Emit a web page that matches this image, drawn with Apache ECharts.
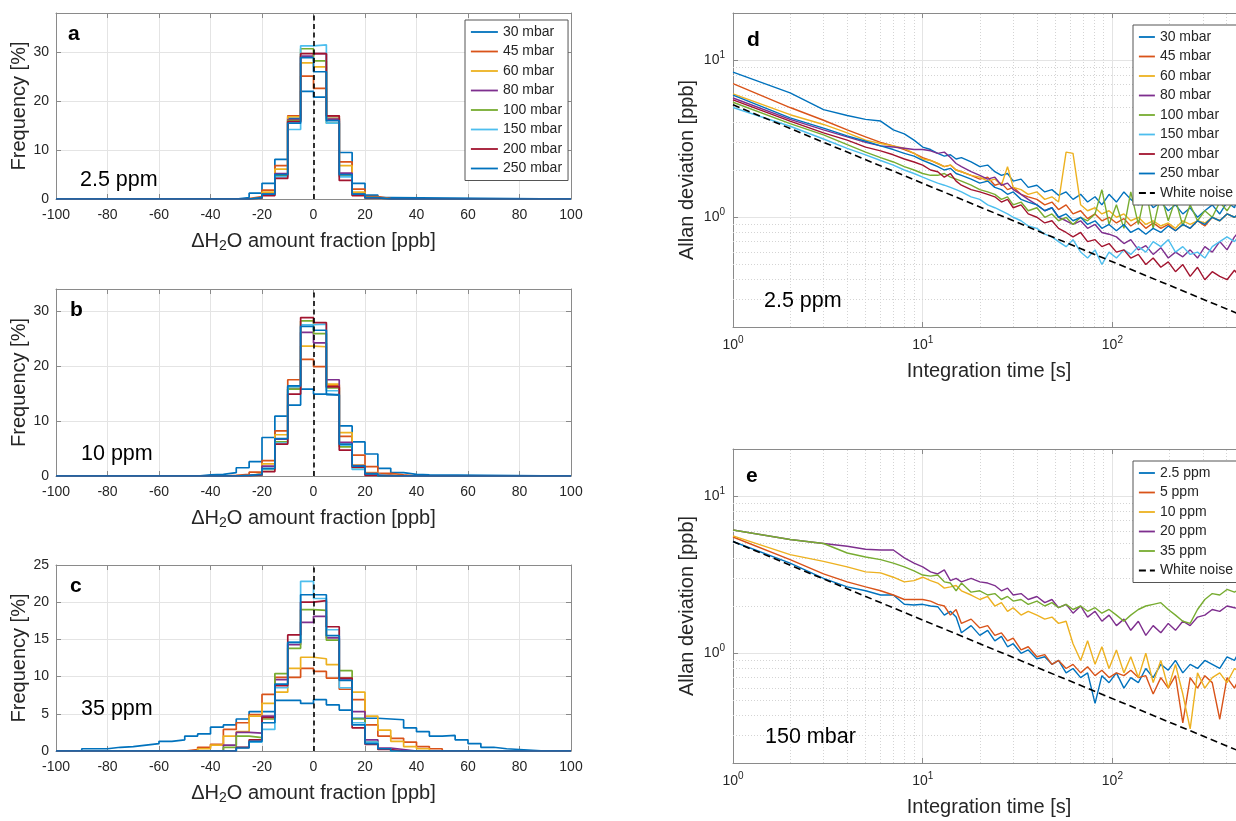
<!DOCTYPE html>
<html><head><meta charset="utf-8">
<script src="https://cdn.jsdelivr.net/npm/echarts@6/dist/echarts.min.js"></script>
<style>html,body{margin:0;padding:0;background:#fff}#c{width:1236px;height:821px}</style>
</head><body><div id="c"></div>
<script>
// ---------------- DATA ----------------
const PRESSURES = ['30 mbar','45 mbar','60 mbar','80 mbar','100 mbar','150 mbar','200 mbar','250 mbar'];
const CONCS = ['2.5 ppm','5 ppm','10 ppm','20 ppm','35 ppm'];
const X_RANGE = [-100, 100];

// Histogram bin edges (ppb)
const EDGES_A = [-30,-25,-20,-15,-10,-5,0,5,10,15,20,25,30];
const EDGES_B = [-45,-40,-35,-30,-25,-20,-15,-10,-5,0,5,10,15,20,25,30,35,40,45];
const EDGES_C = [-90,-85,-80,-75,-70,-65,-60,-55,-50,-45,-40,-35,-30,-25,-20,-15,-10,-5,0,5,10,15,20,25,30,35,40,45,50,55,60,65,70,75,80,85,90];

// Panel a: 2.5 ppm (frequency %)
const A30  = [0.3,1.2,3.2,8.1,16.5,22.0,20.8,16.5,9.5,3.2,0.8,0.3];
const A45  = [0.1,0.5,1.8,6.8,17.0,25.1,22.6,17.0,7.6,2.0,0.5,0.1];
const A60  = [0,0.3,1.4,6.1,16.8,27.8,27.0,16.5,6.8,1.4,0.3,0];
const A80  = [0,0.2,1.0,5.2,16.2,29.2,29.7,16.3,5.3,1.0,0.2,0];
const A100 = [0,0.2,0.9,4.8,16.0,30.7,28.2,15.5,4.7,0.9,0.2,0];
const A150 = [0,0.2,0.8,4.5,14.2,31.3,31.5,15.5,4.5,0.8,0.2,0];
const A200 = [0,0.2,0.7,4.2,15.8,29.7,29.7,17.0,3.8,0.7,0.2,0];
const A250 = [0,0.3,1.0,5.0,15.5,28.9,26.0,16.0,5.0,1.0,0.3,0];

// Panel b: 10 ppm
const B30  = [0.2,0.3,0.6,1.5,2.6,7.0,10.9,12.9,15.8,14.9,14.7,9.1,6.2,4.0,1.4,0.6,0.3,0.2];
const B45  = [0,0,0.1,0.3,0.7,2.8,8.2,17.5,21.2,19.9,16.5,7.2,3.8,1.7,0.5,0.2,0,0];
const B60  = [0,0,0,0.1,0.4,2.2,7.5,16.2,23.6,23.5,16.7,7.9,2.0,0.6,0.2,0,0,0];
const B80  = [0,0,0,0.1,0.3,1.8,6.7,15.8,26.1,24.2,17.5,6.1,1.9,0.5,0.1,0,0,0];
const B100 = [0,0,0,0,0.2,1.2,6.2,15.8,28.2,25.9,16.0,5.3,1.5,0.4,0,0,0,0];
const B150 = [0,0,0,0,0.2,1.3,6.0,16.2,27.5,27.6,15.5,5.6,1.2,0.3,0,0,0,0];
const B200 = [0,0,0,0,0.2,0.8,5.8,14.9,28.8,27.9,16.2,4.7,1.6,0.1,0,0,0,0];
const B250 = [0,0,0,0.1,0.3,1.4,6.8,16.4,27.2,26.5,14.8,5.8,1.8,0.4,0,0,0,0];

// Panel c: 35 ppm
const C30  = [0.3,0.3,0.5,0.6,0.8,1.0,1.3,1.5,2.0,2.3,3.2,3.5,4.3,5.3,5.3,6.8,6.8,6.4,6.9,6.2,5.5,4.4,4.4,4.3,4.2,3.1,2.6,2.0,2.1,1.5,1.0,0.5,0.3,0.2,0.1,0];
const C45  = [0,0,0,0,0,0,0,0,0.2,0.5,0.9,2.9,3.8,4.9,7.6,9.9,9.9,11.1,10.7,9.8,8.3,6.9,3.5,2.0,1.7,1.2,0.6,0.3,0,0,0,0,0,0,0,0];
const C60  = [0,0,0,0,0,0,0,0,0,0.3,0.8,2.0,2.6,4.7,6.4,7.9,11.1,12.6,12.4,11.6,9.8,7.9,4.7,2.8,1.3,0.6,0.3,0,0,0,0,0,0,0,0,0];
const C80  = [0,0,0,0,0,0,0,0,0,0,0,0.8,2.5,2.4,4.7,9.6,14.3,17.3,18.1,15.2,9.7,5.3,1.5,0.4,0.2,0,0,0,0,0,0,0,0,0,0,0];
const C100 = [0,0,0,0,0,0,0,0,0,0,0,0.5,2.0,1.8,4.3,10.4,13.8,19.0,18.9,14.9,10.8,4.3,1.2,0.3,0,0,0,0,0,0,0,0,0,0,0,0];
const C150 = [0,0,0,0,0,0,0,0,0,0,0,0,0.5,1.2,2.9,8.5,14.6,22.8,20.5,16.3,8.5,3.8,1.2,0.3,0,0,0,0,0,0,0,0,0,0,0,0];
const C200 = [0,0,0,0,0,0,0,0,0,0,0,0,0.5,1.5,4.5,8.8,15.6,20.0,20.2,16.7,9.8,3.1,0.9,0.2,0,0,0,0,0,0,0,0,0,0,0,0];
const C250 = [0,0,0,0,0,0,0,0,0,0,0,0,0.4,1.3,3.8,9.0,14.6,21.0,21.0,15.5,9.5,3.5,1.0,0.3,0,0,0,0,0,0,0,0,0,0,0,0];

// Allan deviation: integration times (s)
const TAU = [1,2,3,4,5,6,7,8,9,10,11,12,13,14,15,16,18,20,22,24,26,28,30,33,36,40,44,48,52,57,62,68,74,81,88,96,105,115,125,137,150,164,180,197,215,235,257,281,307,336,368,402,440,481,500];

// Panel d: 2.5 ppm, per pressure (ppb)
const D30  = [8.4,6.2,4.85,4.45,4.2,4.1,3.6,3.4,3.1,2.8, 2.7,2.55,2.45,2.5,2.35,2.4,2.25,2.1,2.15,1.95, 1.85,1.9,1.7,1.75,1.55,1.6,1.45,1.5,1.38,1.45, 1.3,1.4,1.25,1.35,1.2,1.4,1.25,1.45,1.3,1.2, 1.35,1.15,1.25,1.1,1.2,1.05,1.15,1.0,1.1,1.2, 1.05,1.25,1.15,1.6,1.5];
const D45  = [7.1,5.0,4.15,3.6,3.25,3.0,2.85,2.7,2.55,2.4, 2.3,2.2,2.1,2.15,2.0,1.95,1.85,1.75,1.8,1.6, 1.65,1.5,1.55,1.4,1.35,1.3,1.2,1.25,1.12,1.2, 1.05,1.1,0.98,1.05,0.95,1.0,0.92,0.98,0.88,0.95, 0.85,0.92,0.85,0.9,0.82,0.9,0.85,0.95,0.88,1.0, 0.95,1.05,1.0,1.05,1.0];
const D60  = [6.1,4.5,3.9,3.45,3.1,2.95,2.85,2.75,2.55,2.35, 2.3,2.2,2.1,2.15,2.0,1.95,1.85,1.8,1.7,1.75, 1.6,2.1,1.55,1.5,1.4,1.45,1.3,1.35,1.25,2.6, 2.55,1.2,1.1,1.15,1.05,1.1,1.0,1.05,0.95,1.0, 0.9,0.95,0.88,0.92,0.85,0.95,0.9,0.95,0.92,1.0, 0.95,1.05,1.0,1.1,1.05];
const D80  = [5.75,4.2,3.6,3.25,3.0,2.85,2.8,2.75,2.7,2.7, 2.65,2.55,2.6,2.4,2.2,2.1,1.95,1.85,1.75,1.8, 1.6,1.65,1.5,1.4,1.3,1.2,1.1,1.15,1.0,0.95, 0.9,0.95,0.85,0.9,0.8,0.78,0.75,0.68,0.72,0.62, 0.66,0.58,0.64,0.55,0.6,0.56,0.62,0.55,0.65,0.6, 0.7,0.62,0.75,0.85,0.8];
const D100 = [5.4,3.95,3.35,2.9,2.6,2.4,2.25,2.1,2.0,1.9, 1.85,1.85,1.9,1.8,1.75,1.7,1.6,1.5,1.45,1.4, 1.3,1.35,1.2,1.25,1.1,1.15,1.0,1.05,0.95,1.0, 0.9,1.0,0.95,1.05,1.5,0.9,1.2,0.85,1.45,0.9, 1.5,0.85,1.4,0.95,1.3,0.88,1.2,0.95,1.1,1.0, 1.25,1.1,1.3,1.55,1.4];
const D150 = [5.0,3.8,3.15,2.75,2.5,2.3,2.15,2.0,1.9,1.8, 1.72,1.65,1.6,1.55,1.5,1.45,1.35,1.3,1.2,1.15, 1.1,1.05,1.0,0.95,0.88,0.85,0.78,0.75,0.7,0.65, 0.72,0.6,0.55,0.62,0.5,0.6,0.55,0.62,0.58,0.65, 0.6,0.7,0.65,0.72,0.6,0.65,0.58,0.6,0.55,0.65, 0.7,0.75,0.7,0.8,0.75];
const D200 = [5.6,4.1,3.45,3.1,2.8,2.65,2.5,2.35,2.25,2.15, 2.0,1.95,1.8,1.9,1.7,1.6,1.5,1.45,1.4,1.35, 1.25,1.3,1.15,1.2,1.05,1.0,0.92,0.95,0.85,0.8, 0.75,0.8,0.7,0.72,0.65,0.68,0.6,0.62,0.55,0.58, 0.5,0.55,0.48,0.52,0.45,0.5,0.42,0.48,0.4,0.45, 0.42,0.4,0.46,0.4,0.38];
const D250 = [6.0,4.3,3.7,3.3,3.05,2.85,2.7,2.55,2.45,2.3, 2.2,2.1,2.0,2.05,1.9,1.85,1.75,1.65,1.7,1.55, 1.5,1.4,1.45,1.3,1.25,1.2,1.1,1.15,1.0,1.05, 0.95,1.0,0.9,0.95,0.85,0.9,0.82,0.9,0.8,0.85, 0.78,0.85,0.8,0.88,0.82,0.9,0.85,0.95,0.9,1.0, 0.95,1.05,1.0,1.1,1.05];

// Panel e: 150 mbar, per concentration (ppb)
const E2_5 = [5.15,3.75,3.0,2.65,2.5,2.35,2.35,2.05,2.03,2.05, 2.0,1.98,1.75,1.85,1.7,1.35,1.5,1.3,1.4,1.2, 1.28,1.1,1.15,1.0,1.05,0.92,0.95,0.85,0.9,0.75, 0.8,0.7,0.75,0.48,0.72,0.65,0.75,0.6,0.7,0.65, 0.8,0.7,0.85,0.78,0.9,0.75,0.85,0.8,0.9,0.85, 0.8,0.95,0.9,1.1,1.3];
const E5   = [5.5,3.95,3.2,2.85,2.65,2.5,2.35,2.2,2.2,2.2, 2.15,2.05,2.0,1.75,1.9,1.55,1.65,1.45,1.5,1.3, 1.35,1.2,1.25,1.05,1.1,0.95,0.98,0.85,0.9,0.8, 0.85,0.75,0.82,0.72,0.78,0.7,0.75,0.72,0.78,0.7, 0.72,0.55,0.7,0.6,0.72,0.36,0.7,0.6,0.72,0.65, 0.38,0.7,0.6,0.75,0.7];
const E10  = [5.6,4.25,3.85,3.55,3.3,3.25,3.05,2.85,2.9,3.05, 2.9,2.8,2.6,2.65,2.7,2.5,2.35,2.2,2.3,2.0, 2.1,1.85,1.95,1.75,1.85,1.75,1.65,1.7,1.55,1.6, 1.15,0.9,1.2,0.85,1.1,0.8,1.05,0.75,0.95,0.7, 1.0,0.65,0.9,0.6,0.85,0.55,0.33,0.75,0.6,0.7, 0.75,0.65,0.8,0.75,0.85];
const E20  = [6.1,5.3,5.0,4.8,4.6,4.55,4.55,4.05,3.75,3.55, 3.3,3.2,3.4,2.9,3.0,2.85,3.0,2.85,2.8,2.7, 2.5,2.6,2.35,2.4,2.2,2.3,2.1,2.2,1.95,2.05, 1.8,2.0,1.7,1.85,1.6,1.75,1.5,1.65,1.4,1.6, 1.3,1.5,1.35,1.55,1.4,1.6,1.5,1.7,1.75,1.9, 1.85,2.0,1.95,1.9,1.95];
const E35  = [6.1,5.3,5.0,4.35,4.1,3.95,3.75,3.55,3.35,3.15, 3.1,3.15,2.85,2.8,2.5,2.8,2.45,2.5,2.35,2.4, 2.2,2.3,2.15,2.2,2.05,2.15,2.0,2.1,1.95,2.05, 1.9,2.0,1.85,1.95,1.8,1.9,1.75,1.6,1.75,1.9, 2.0,2.05,2.1,1.9,1.75,1.6,1.55,1.9,2.2,2.4, 2.35,2.55,2.45,2.6,2.65];

// White-noise reference lines (end points)
const WN_TAU = [1, 500];
const WN_D = [5.2, 0.233];
const WN_E = [5.15, 0.23];

// Log-axis minor grid positions
const MINOR_X = [2,3,4,5,6,7,8,9,20,30,40,50,60,70,80,90,200,300,400];
const MINOR_Y = [0.3,0.4,0.5,0.6,0.7,0.8,0.9,2,3,4,5,6,7,8,9];

// ---------------- STYLE ----------------
const FONT = '"Liberation Sans", Arial, Helvetica, sans-serif';
const COLORS = ['#0072BD','#D95319','#EDB120','#7E2F8E','#77AC30','#4DBEEE','#A2142F','#0072BD'];
const AXC = '#8a8a8a';
const LBL = '#262626';
const GRC = '#e4e4e4';

const HIST = [
  {edges: EDGES_A, vals: [A30,A45,A60,A80,A100,A150,A200,A250], ymax: 38, yint: 10},
  {edges: EDGES_B, vals: [B30,B45,B60,B80,B100,B150,B200,B250], ymax: 34, yint: 10},
  {edges: EDGES_C, vals: [C30,C45,C60,C80,C100,C150,C200,C250], ymax: 25, yint: 5}
];

function stairs(edges, vals) {
  const pts = [[X_RANGE[0], 0]];
  for (let i = 0; i < vals.length; i++) pts.push([edges[i], vals[i]]);
  pts.push([edges[edges.length - 1], 0]);
  pts.push([X_RANGE[1], 0]);
  return pts;
}
function pairs(xs, ys) { return xs.map((x, i) => [x, ys[i]]); }
function powLabel(v) {
  const l = Math.log10(v), e = Math.round(l);
  return Math.abs(l - e) < 1e-6 ? '10{s|' + e + '}' : '';
}

const grid = [
  {left:56, top:13, width:515, height:186},
  {left:56, top:289, width:515, height:187},
  {left:56, top:565, width:515, height:186},
  {left:733, top:13, width:512, height:314},
  {left:733, top:449, width:512, height:314}
].map(g => Object.assign({containLabel:false, outerBoundsMode:'none'}, g));

const lineAx = {show:true, onZero:false, lineStyle:{color:AXC, width:1}};
const tickAx = {show:true, inside:true, length:5, lineStyle:{color:AXC, width:1}};
const xAxis = [], yAxis = [];
const xNameStyle = {fontSize:20, color:LBL, fontFamily:FONT,
  rich:{sub:{fontSize:14, color:LBL, fontFamily:FONT, padding:[9,0,0,0]}}};

for (let g = 0; g < 3; g++) {
  xAxis.push({type:'value', gridIndex:g, min:X_RANGE[0], max:X_RANGE[1], interval:20, position:'bottom',
    axisLine:lineAx, axisTick:tickAx,
    axisLabel:{color:LBL, fontSize:14, fontFamily:FONT, margin:9},
    splitLine:{show:true, lineStyle:{color:GRC, width:1}},
    name:'ΔH{sub|2}O amount fraction [ppb]', nameLocation:'middle', nameGap:31, nameTextStyle:xNameStyle});
  xAxis.push({type:'value', gridIndex:g, min:X_RANGE[0], max:X_RANGE[1], interval:20, position:'top',
    axisLine:lineAx, axisTick:tickAx, axisLabel:{show:false}, splitLine:{show:false}});
  yAxis.push({type:'value', gridIndex:g, min:0, max:HIST[g].ymax, interval:HIST[g].yint, position:'left',
    axisLine:lineAx, axisTick:tickAx,
    axisLabel:{color:LBL, fontSize:14, fontFamily:FONT, margin:7, showMaxLabel: HIST[g].ymax % HIST[g].yint === 0},
    splitLine:{show:true, lineStyle:{color:GRC, width:1}},
    name:'Frequency [%]', nameLocation:'middle', nameGap:26,
    nameTextStyle:{fontSize:20, color:LBL, fontFamily:FONT}});
  yAxis.push({type:'value', gridIndex:g, min:0, max:HIST[g].ymax, interval:HIST[g].yint, position:'right',
    axisLine:lineAx, axisTick:tickAx, axisLabel:{show:false}, splitLine:{show:false}});
}
const logLbl = {color:LBL, fontSize:14, fontFamily:FONT, formatter:powLabel,
  rich:{s:{fontSize:10, color:LBL, fontFamily:FONT, padding:[0,0,10,0]}}};
for (let g = 3; g < 5; g++) {
  xAxis.push({type:'log', logBase:10, gridIndex:g, min:1, max:500, position:'bottom',
    axisLine:lineAx, axisTick:tickAx, axisLabel:Object.assign({margin:8}, logLbl),
    splitLine:{show:true, lineStyle:{color:GRC, width:1}},
    name:'Integration time [s]', nameLocation:'middle', nameGap:34,
    nameTextStyle:{fontSize:20, color:LBL, fontFamily:FONT}});
  xAxis.push({type:'log', logBase:10, gridIndex:g, min:1, max:500, position:'top',
    axisLine:lineAx, axisTick:tickAx, axisLabel:{show:false}, splitLine:{show:false}});
  yAxis.push({type:'log', logBase:10, gridIndex:g, min:0.2, max:20, position:'left',
    axisLine:lineAx, axisTick:tickAx, axisLabel:Object.assign({margin:8}, logLbl),
    splitLine:{show:true, lineStyle:{color:GRC, width:1}},
    name:'Allan deviation [ppb]', nameLocation:'middle', nameGap:36,
    nameTextStyle:{fontSize:20, color:LBL, fontFamily:FONT}});
  yAxis.push({type:'log', logBase:10, gridIndex:g, min:0.2, max:20, position:'right',
    axisLine:lineAx, axisTick:tickAx, axisLabel:{show:false}, splitLine:{show:false}});
}

const series = [];
// histograms
for (let g = 0; g < 3; g++) {
  HIST[g].vals.forEach((v, i) => {
    series.push({type:'line', name:PRESSURES[i], xAxisIndex:2*g, yAxisIndex:2*g, step:'end',
      data:stairs(HIST[g].edges, v), symbol:'none', color:COLORS[i],
      lineStyle:{color:COLORS[i], width:1.7}, silent:true, z:2});
  });
  series.push({type:'line', xAxisIndex:2*g, yAxisIndex:2*g, data:[], symbol:'none', silent:true, z:3,
    markLine:{silent:true, z:3, symbol:['none','none'], label:{show:false}, animation:false,
      lineStyle:{color:'#000', width:1.6, type:[5,3.5]}, data:[{xAxis:0}]}});
}
// log grid helpers
for (let g = 3; g < 5; g++) {
  series.push({type:'line', xAxisIndex:2*g, yAxisIndex:2*g, data:[[1,1]], symbol:'none',
    lineStyle:{opacity:0}, silent:true, z:1,
    markLine:{silent:true, z:1, symbol:['none','none'], label:{show:false}, animation:false,
      lineStyle:{color:'#d4d4d4', width:1, type:[1,2]},
      data:[...MINOR_X.map(v => ({xAxis:v})), ...MINOR_Y.map(v => ({yAxis:v}))]}});
}
// panel d
[D30,D45,D60,D80,D100,D150,D200,D250].forEach((v, i) => {
  series.push({type:'line', name:PRESSURES[i], xAxisIndex:6, yAxisIndex:6, data:pairs(TAU, v),
    symbol:'none', color:COLORS[i], lineStyle:{color:COLORS[i], width:1.4}, silent:true, z:2});
});
series.push({type:'line', name:'White noise', xAxisIndex:6, yAxisIndex:6, data:pairs(WN_TAU, WN_D),
  symbol:'none', color:'#000', lineStyle:{color:'#000', width:1.6, type:[7,4]}, silent:true, z:3});
// panel e
[E2_5,E5,E10,E20,E35].forEach((v, i) => {
  series.push({type:'line', name:CONCS[i], xAxisIndex:8, yAxisIndex:8, data:pairs(TAU, v),
    symbol:'none', color:COLORS[i], lineStyle:{color:COLORS[i], width:1.4}, silent:true, z:2});
});
series.push({type:'line', name:'White noise', xAxisIndex:8, yAxisIndex:8, data:pairs(WN_TAU, WN_E),
  symbol:'none', color:'#000', lineStyle:{color:'#000', width:1.6, type:[7,4]}, silent:true, z:3});

const legBase = {orient:'vertical', itemHeight:14, itemGap:5.5, selectedMode:false, z:20,
  backgroundColor:'#fff', borderColor:'#555', borderWidth:1, borderRadius:0,
  itemStyle:{opacity:0, borderWidth:0}, lineStyle:{width:1.8},
  textStyle:{fontSize:14, color:LBL, fontFamily:FONT}};
const legend = [
  Object.assign({}, legBase, {left:465, top:20, padding:[5,6,5,5], itemWidth:27, data:PRESSURES}),
  Object.assign({}, legBase, {left:1133, top:25, padding:[5,6,5,5], itemWidth:16, data:[...PRESSURES, 'White noise']}),
  Object.assign({}, legBase, {left:1133, top:461, padding:[5,6,5,5], itemWidth:16, data:[...CONCS, 'White noise']})
];

function txt(s, x, y, size, bold) {
  return {type:'text', x:x, y:y, silent:true, z:100,
    style:{text:s, fill:'#000', font:(bold ? 'bold ' : '') + size + 'px ' + FONT,
      textAlign:'left', textVerticalAlign:'middle', align:'left', verticalAlign:'middle'}};
}
const graphic = [
  txt('a', 68, 34, 21, true), txt('b', 70, 310, 21, true), txt('c', 70, 586, 21, true),
  txt('d', 747, 40, 21, true), txt('e', 746, 476, 21, true),
  txt('2.5 ppm', 80, 180, 21.5), txt('10 ppm', 81, 454.5, 21.5), txt('35 ppm', 81, 709, 21.5),
  txt('2.5 ppm', 764, 301, 21.5), txt('150 mbar', 765, 737.5, 21.5)
];

const chart = echarts.init(document.getElementById('c'), null, {renderer:'canvas', width:1236, height:821});
chart.setOption({animation:false, backgroundColor:'#fff', grid, xAxis, yAxis, series, legend, graphic});
</script></body></html>
